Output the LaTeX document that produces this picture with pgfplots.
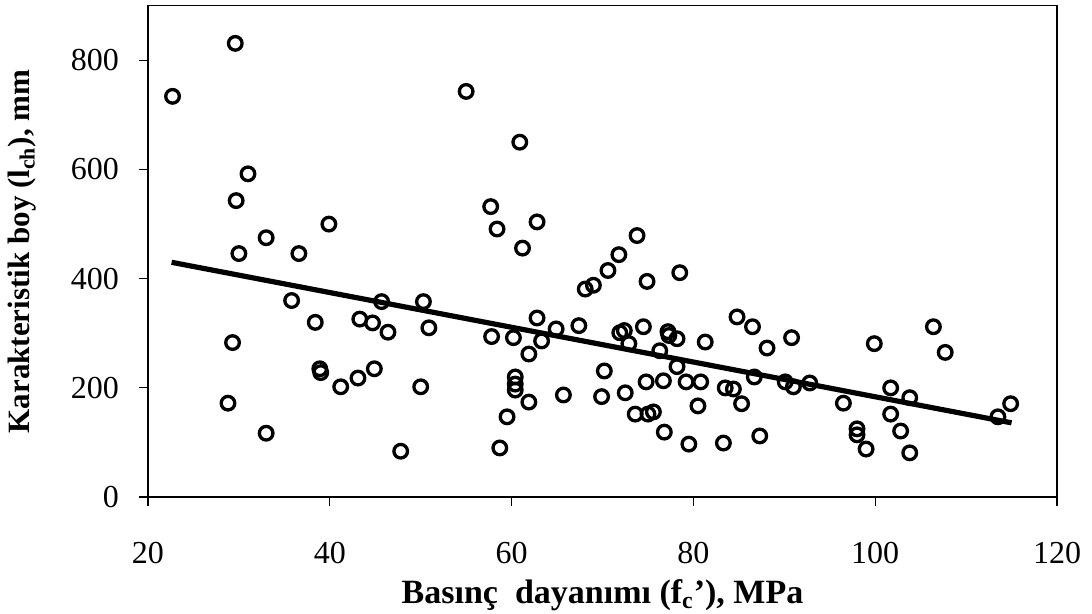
\documentclass[border=0pt]{standalone}
\usepackage{pgfplots}
\pgfplotsset{compat=1.18}
\usepackage{fontspec}
\setmainfont{Liberation Serif}
\begin{document}
\begin{tikzpicture}
\begin{axis}[
  width=454.5pt, height=245.7pt, scale only axis,
  xmin=20, xmax=120, ymin=0, ymax=900,
  xtick={20,40,60,80,100,120},
  ytick={0,200,400,600,800},
  xtick pos=left, ytick pos=left,
  tick align=outside, major tick length=4.5pt,
  tick style={black, line width=0.6pt},
  axis line style={black, line width=0.7pt},
  /pgf/number format/assume math mode=true,
  ticklabel style={font=\fontsize{16}{19}\selectfont},
  xticklabel shift=14.5pt,
  yticklabel shift=6.5pt,
  xlabel={\textbf{Basınç\ \ dayanımı (f\textsubscript{c}'), MPa}},
  ylabel={\textbf{Karakteristik boy (l\textsubscript{ch}), mm}},
  xlabel style={font=\fontsize{17}{20}\selectfont, at={(axis description cs:0.5,-0.1994)}, anchor=center},
  ylabel style={font=\fontsize{15.5}{18}\selectfont, at={(axis description cs:-0.1386,0.5)}, anchor=center},
  clip=false,
]
\addplot[only marks, mark=o, mark size=3.4pt, mark options={line width=1.65pt, black}] coordinates {
(22.7,734) (29.6,831) (31.0,592) (29.7,543) (30.0,446) (33.0,475) (36.6,446) (39.9,500)
(35.8,360) (38.4,320) (29.3,283) (28.8,172) (33.0,117) (38.9,235) (39.0,228) (41.2,202)
(43.3,326) (44.7,319) (43.1,218) (44.9,235) (45.7,358) (46.4,302) (47.8,84) (50.0,202)
(50.3,358) (50.9,310) (55.0,743) (57.7,532) (58.4,491) (57.8,294) (58.7,90) (59.5,147)
(60.2,292) (60.4,220) (60.4,207) (60.4,196) (60.9,650) (61.2,456) (62.8,504) (61.9,262)
(61.9,174) (62.8,328) (63.3,286) (64.9,308) (65.7,187) (67.4,314) (68.1,381) (69.0,388)
(70.6,415) (71.8,444) (70.2,231) (69.9,184) (73.8,479) (74.9,395) (78.5,411) (71.9,301)
(72.4,305) (72.9,281) (72.5,191) (74.5,312) (74.8,211) (73.6,152) (75.0,152) (75.6,156)
(76.3,268) (76.7,213) (76.8,119) (77.2,303) (77.3,296) (78.2,290) (78.2,239) (79.2,211)
(79.5,97) (80.5,167) (80.8,211) (81.3,284) (83.3,99) (83.5,200) (84.4,198) (84.8,330)
(85.3,171) (86.5,312) (86.7,220) (87.3,112) (88.1,273) (90.1,211) (90.8,292) (91.0,202)
(92.8,209) (96.5,172) (98.0,125) (98.0,114) (99.0,88) (99.9,281) (101.7,200) (101.7,152)
(102.8,121) (103.8,182) (103.8,81) (106.4,312) (107.7,265) (113.5,147) (114.9,171)
};
\addplot[black, line width=2.6pt] coordinates {(22.6,430) (115,136)};
\coordinate (O) at (rel axis cs:0,0);
\coordinate (T) at (rel axis cs:1,1);
\end{axis}
\pgfresetboundingbox
\path[use as bounding box] ([shift={(-74pt,-58pt)}]O) rectangle ([shift={(17.5pt,2.85pt)}]T);
\end{tikzpicture}
\end{document}
